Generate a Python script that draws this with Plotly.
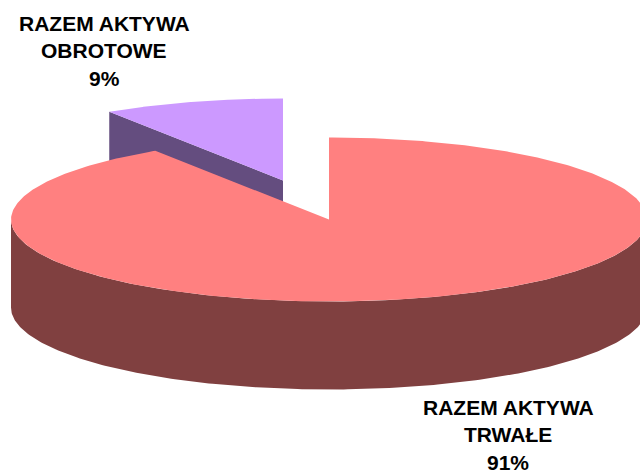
import numpy as np
import plotly.graph_objects as go

# Data
categories = ["RAZEM AKTYWA TRWAŁE", "RAZEM AKTYWA OBROTOWE"]
label_lines = [["RAZEM AKTYWA", "TRWAŁE"], ["RAZEM AKTYWA", "OBROTOWE"]]
values = [90.8, 9.2]

# Colours
top_colors = ["#FF8080", "#CC99FF"]
side_colors = ["#804040", "#644D7F"]

# Projection of the tilted pie onto the canvas
RX, RY, DEPTH = 318, 82, 88
big_center = (329, 219.5)
small_center = (283, 180.5)

fractions = np.array(values) / sum(values)
split_deg = 360 * fractions[0]


def rim(center, a0, a1, n=240, drop=0):
    t = np.radians(np.linspace(a0, a1, n))
    return center[0] + RX * np.sin(t), center[1] - RY * np.cos(t) + drop


def add_poly(fig, x, y, color):
    fig.add_trace(go.Scatter(
        x=list(x), y=list(y), mode="lines", fill="toself", fillcolor=color,
        line=dict(width=0, color=color), hoverinfo="skip", showlegend=False,
    ))


fig = go.Figure()

# Small slice: visible cut face, then top
ex, ey = rim(small_center, split_deg, split_deg, n=1)
add_poly(fig,
         [small_center[0], ex[0], ex[0], small_center[0]],
         [small_center[1], ey[0], ey[0] + DEPTH, small_center[1] + DEPTH],
         side_colors[1])
sx, sy = rim(small_center, split_deg, 360)
add_poly(fig, np.r_[small_center[0], sx], np.r_[small_center[1], sy], top_colors[1])

# Large slice: front wall, then top
wx, wy = rim(big_center, 90, 270)
bx, by = rim(big_center, 270, 90, drop=DEPTH)
add_poly(fig, np.r_[wx, bx], np.r_[wy, by], side_colors[0])
tx, ty = rim(big_center, 0, split_deg, n=480)
add_poly(fig, np.r_[big_center[0], tx], np.r_[big_center[1], ty], top_colors[0])

# Labels
label_x = [508, 104]
label_y = [407, 23]
line_gap = 27.5
annotations = []
for i, lines in enumerate(label_lines):
    rows = lines + [f"{round(fractions[i] * 100)}%"]
    for j, row in enumerate(rows):
        annotations.append(dict(
            x=label_x[i], y=label_y[i] + j * line_gap, text=f"<b>{row}</b>",
            showarrow=False, xanchor="center", yanchor="middle",
            font=dict(family="Liberation Sans", size=21, color="#000000"),
        ))

fig.update_layout(
    width=640, height=471, margin=dict(l=0, r=0, t=0, b=0),
    paper_bgcolor="#FFFFFF", plot_bgcolor="#FFFFFF", showlegend=False,
    xaxis=dict(range=[0, 640], visible=False, fixedrange=True),
    yaxis=dict(range=[471, 0], visible=False, fixedrange=True),
    annotations=annotations,
)
fig.write_html("out.html", config={"displayModeBar": False},
               post_script="document.body.style.margin='0';document.body.style.overflow='hidden';")
